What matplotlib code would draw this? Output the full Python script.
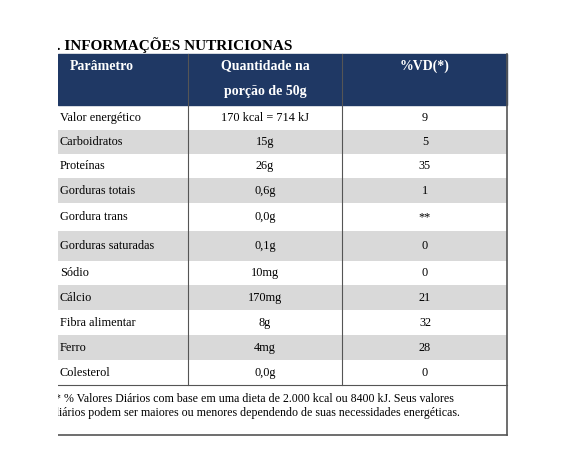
import matplotlib.pyplot as plt
from matplotlib.patches import Rectangle

params = ["Valor energético", "Carboidratos", "Proteínas", "Gorduras totais", "Gordura trans",
          "Gorduras saturadas", "Sódio", "Cálcio", "Fibra alimentar", "Ferro", "Colesterol"]
amounts = ["170 kcal = 714 kJ", "15g", "26g", "0,6g", "0,0g", "0,1g", "10mg", "170mg", "8g", "4mg", "0,0g"]
vd = ["9", "5", "35", "1", "**", "0", "0", "21", "32", "28", "0"]
shaded = [False, True, False, True, False, True, False, True, False, True, False]
row_edges = [105, 130, 154, 178, 203, 231, 261, 285, 310, 335, 360, 385]

plt.rcParams['font.family'] = ['Liberation Serif', 'DejaVu Serif']
fig = plt.figure(figsize=(5.61, 4.73), dpi=100)
ax = fig.add_axes([0, 0, 1, 1])
ax.set_xlim(0, 561)
ax.set_ylim(473, 0)
ax.axis('off')

L, C1, C2, R = 58, 188, 342, 507

ax.text(49, 45, "1. INFORMAÇÕES NUTRICIONAS", fontsize=11, fontweight='bold', va='center')

# header
ax.add_patch(Rectangle((L, 54), R - L, 51, color='#1f3864'))
ax.text(102, 66, "Parâmetro", color='white', fontsize=10, fontweight='bold', ha='center', va='center')
ax.text(265, 66, "Quantidade na", color='white', fontsize=10, fontweight='bold', ha='center', va='center')
ax.text(265, 92, "porção de 50g", color='white', fontsize=10, fontweight='bold', ha='center', va='center')
ax.text(425, 66, "%VD(*)", color='white', fontsize=10, fontweight='bold', ha='center', va='center')

for i in range(len(params)):
    y0, y1 = row_edges[i], row_edges[i + 1]
    if shaded[i]:
        ax.add_patch(Rectangle((L, y0), R - L, y1 - y0, color='#d9d9d9', lw=0))
    ym = (y0 + y1) / 2
    ax.text(L + 2, ym, params[i], fontsize=8.8, va='center')
    ax.text(265, ym, amounts[i], fontsize=8.8, va='center', ha='center')
    ax.text(425, ym, vd[i], fontsize=8.8, va='center', ha='center')

for x in (C1, C2):
    ax.plot([x, x], [54, 385], color='#555555', lw=0.8)
ax.plot([R, R], [54, 435], color='#555555', lw=1.2)
ax.plot([L, R], [385, 385], color='#555555', lw=0.8)
ax.plot([L, R], [435, 435], color='#555555', lw=1.2)

foot = ["* % Valores Diários com base em uma dieta de 2.000 kcal ou 8400 kJ. Seus valores",
        "diários podem ser maiores ou menores dependendo de suas necessidades energéticas."]
for j, line in enumerate(foot):
    ax.text(55 if j == 0 else 53, 399 + j * 14, line, fontsize=8.6, va='center')

# left margin mask (reference is cropped at the table's left edge)
ax.add_patch(Rectangle((0, 30), L, 420, color='white', lw=0, zorder=10))

fig.savefig('out.png', dpi=100)
